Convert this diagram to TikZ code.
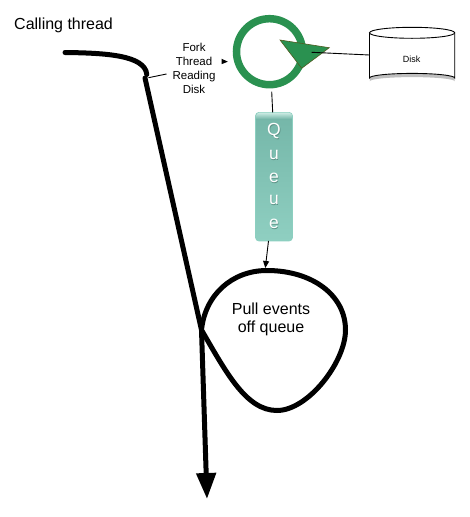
\documentclass[tikz,border=0pt]{standalone}
\usepackage{fontspec}
\setmainfont{Liberation Sans}
\usetikzlibrary{arrows.meta}
\definecolor{ringgreen}{HTML}{2A9150}
\definecolor{triedge}{HTML}{4F5A1E}
\definecolor{qtop}{HTML}{74B6A8}
\definecolor{qbot}{HTML}{8FCFC1}
\definecolor{qedge}{HTML}{8CCFC0}
\definecolor{qgloss}{HTML}{CBEBE3}
\tikzset{
  thickline/.style={line width=5pt,black,line cap=round},
  thinline/.style={line width=0.9pt,black},
  labeltext/.style={font=\fontsize{11.5}{14}\selectfont,align=center,inner sep=0pt},
  bigtext/.style={font=\fontsize{16}{18.5}\selectfont,align=center,inner sep=0pt},
  qletter/.style={font=\fontsize{17.5}{20}\selectfont,text=white,inner sep=0pt},
  qshadow/.style={font=\fontsize{17.5}{20}\selectfont,text=black!20!qtop,inner sep=0pt}
}
\begin{document}
\begin{tikzpicture}[x=1pt,y=-1pt]
\useasboundingbox (0,0) rectangle (470,517);
% Text
\node[bigtext,anchor=west] (calling) at (14,25.5) {Calling thread};
\node[labeltext] (fork) at (194,68) {Fork\\Thread\\Reading\\Disk};
\node[bigtext] (pull) at (271,319.5) {Pull events\\off queue};
% Main thread
\coordinate (start) at (65,52.5);
\coordinate (bend) at (146.8,74.5);
\coordinate (resume) at (145,78);
\coordinate (junction) at (201.5,330);
\coordinate (tip) at (207,499);
\draw[thickline] (start) .. controls (105,53) and (145,55) .. (bend);
\draw[thickline] (resume) -- (junction);
\draw[line width=5pt,-{Triangle[length=26pt,width=19pt]}] (junction) -- (tip);
% Pull loop
\coordinate (looptop) at (267,270.5);
\coordinate (loopright) at (345.5,330);
\coordinate (loopbottom) at (277,410.5);
\draw[thickline] (junction) .. controls (205,295) and (232,270.5) .. (looptop)
  .. controls (312,270.5) and (345.5,295) .. (loopright)
  .. controls (345.5,362) and (308,410.5) .. (loopbottom)
  .. controls (246,410.5) and (226,372) .. (junction);
% Fork pointer
\coordinate (forkstart) at (166.5,74);
\coordinate (forkend) at (148.5,77.7);
\draw[thinline] (forkstart) -- (forkend);
\fill[black] (221.5,58.7) -- (227.8,61.7) -- (221.5,64.2) -- cycle;
% Ring
\node[circle,draw=ringgreen,line width=7.5pt,minimum size=66pt,inner sep=0pt,outer sep=0pt] (ring) at (269.5,51.7) {};
% Triangle
\coordinate (triA) at (280,40);
\coordinate (triB) at (329.3,47.7);
\coordinate (triC) at (301.7,68.3);
\coordinate (tri) at (311.7,52.3);
\filldraw[fill=ringgreen,draw=triedge,line width=0.6pt] (triA) -- (triB) -- (triC) -- cycle;
% Disk
\fill[black!25] (369.8,38) -- (369.8,81.3) arc[start angle=180,end angle=360,x radius=42.4,y radius=4.2] -- (454.6,38) -- cycle;
\filldraw[fill=white,draw=black,line width=0.9pt] (369.5,32.8) -- (369.5,78) arc[start angle=180,end angle=360,x radius=42.6,y radius=4.6] -- (454.7,32.8);
\filldraw[fill=white,draw=black,line width=0.9pt] (412.1,32.8) ellipse[x radius=42.6,y radius=5.5];
\node[minimum width=85.2pt,minimum height=56pt,inner sep=0pt,outer sep=0pt] (disk) at (412.1,55) {};
\node[font=\fontsize{9}{11}\selectfont,inner sep=0pt] (disklabel) at (411.7,59.5) {Disk};
\draw[thinline] (tri) -- (disk.west);
% Queue
\node[rounded corners=3.5pt,top color=qtop,bottom color=qbot,draw=qedge,line width=0.8pt,minimum width=37pt,minimum height=128.5pt,inner sep=0pt,outer sep=0pt] (queue) at (274,176.7) {};
\begin{scope}
\clip[rounded corners=3.5pt] (255.8,112.7) rectangle (292.4,240.6);
\shade[top color=qgloss,bottom color=qtop] (255.8,112.7) rectangle (292.4,119);
\end{scope}
\foreach \ltr/\yy in {Q/130.7,u/155,e/178,u/200,e/224}{
  \node[qshadow] at (274.6,\yy+0.9) {\ltr};
  \node[qletter] at (274,\yy) {\ltr};
}
% Queue connectors
\coordinate (ringout) at (271.7,91.7);
\draw[thinline] (ringout) -- ([xshift=-1.3pt]queue.north);
\coordinate (looparrow) at (265.3,268);
\draw[thinline,-{Triangle[length=7pt,width=6pt]}] ([xshift=-5.5pt]queue.south) -- (looparrow);
\end{tikzpicture}
\end{document}
